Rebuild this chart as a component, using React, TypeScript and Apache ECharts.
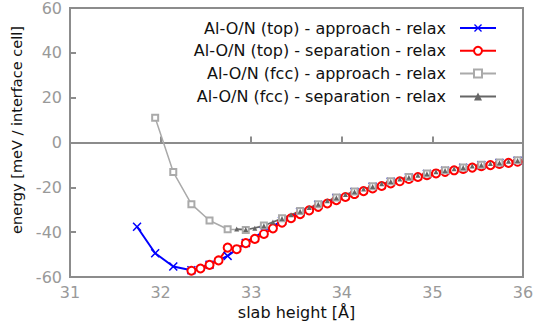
import React, { useEffect, useRef } from "react";
import * as echarts from "echarts";

const xTicks = [31, 32, 33, 34, 35, 36];
const yTicks = [-60, -40, -20, 0, 20, 40, 60];

const seriesNames = [
  "Al-O/N (top) - approach - relax",
  "Al-O/N (top) - separation - relax",
  "Al-O/N (fcc) - approach - relax",
  "Al-O/N (fcc) - separation - relax",
];

const topApproach: [number, number][] = [
  [31.74, -37.6], [31.94, -49.4], [32.14, -55.3], [32.34, -57.0], [32.54, -54.5],
  [32.74, -50.6], [32.94, -44.8], [33.14, -39.6], [33.34, -35.0], [33.54, -31.0],
  [33.74, -27.8], [33.94, -24.8], [34.14, -22.1], [34.34, -19.7], [34.54, -17.5],
  [34.74, -15.6], [34.94, -14.0], [35.14, -12.6], [35.34, -11.3], [35.54, -10.1],
  [35.74, -9.1], [35.94, -8.1],
];

const topSeparation: [number, number][] = [
  [32.34, -57.2], [32.44, -56.2], [32.54, -54.6], [32.64, -52.6], [32.74, -46.9],
  [32.84, -47.6], [32.94, -44.9], [33.04, -43.0], [33.14, -40.8], [33.24, -38.3],
  [33.34, -35.8], [33.44, -33.8], [33.54, -32.0], [33.64, -30.3], [33.74, -28.7],
  [33.84, -27.2], [33.94, -25.7], [34.04, -24.3], [34.14, -23.0], [34.24, -21.7],
  [34.34, -20.5], [34.44, -19.4], [34.54, -18.3], [34.64, -17.3], [34.74, -16.3],
  [34.84, -15.4], [34.94, -14.6], [35.04, -13.8], [35.14, -13.1], [35.24, -12.4],
  [35.34, -11.8], [35.44, -11.2], [35.54, -10.6], [35.64, -10.1], [35.74, -9.6],
  [35.84, -9.1], [35.94, -8.6],
];

const fccApproach: [number, number][] = [
  [31.94, 11.0], [32.14, -13.2], [32.34, -27.5], [32.54, -34.8], [32.74, -38.7],
  [32.94, -39.0], [33.14, -37.0], [33.34, -33.8], [33.54, -30.6], [33.74, -27.5],
  [33.94, -24.5], [34.14, -21.9], [34.34, -19.5], [34.54, -17.3], [34.74, -15.4],
  [34.94, -13.8], [35.14, -12.4], [35.34, -11.1], [35.54, -9.9], [35.74, -8.9],
  [35.94, -7.9],
];

const fccSeparation: [number, number][] = [
  [32.84, -38.6], [32.94, -38.8], [33.04, -38.2], [33.14, -37.1], [33.24, -35.5],
  [33.34, -33.9], [33.44, -32.2], [33.54, -30.7], [33.64, -29.0], [33.74, -27.6],
  [33.84, -26.0], [33.94, -24.6], [34.04, -23.2], [34.14, -22.0], [34.24, -20.7],
  [34.34, -19.6], [34.44, -18.4], [34.54, -17.4], [34.64, -16.3], [34.74, -15.5],
  [34.84, -14.6], [34.94, -13.9], [35.04, -13.1], [35.14, -12.5], [35.24, -11.7],
  [35.34, -11.2], [35.44, -10.5], [35.54, -10.0], [35.64, -9.4], [35.74, -9.0],
  [35.84, -8.4], [35.94, -8.0],
];

const FONT = "DejaVu Sans";
const AXIS_GRAY = "#8c8c8c";
const crossSymbol =
  "path://M0,1.2 L1.2,0 L5,3.8 L8.8,0 L10,1.2 L6.2,5 L10,8.8 L8.8,10 L5,6.2 L1.2,10 L0,8.8 L3.8,5 Z";

export default function App() {
  const ref = useRef<HTMLDivElement>(null);

  useEffect(() => {
    if (!ref.current) return;
    const chart = echarts.init(ref.current, undefined, { renderer: "svg" });
    chart.setOption({
      animation: false,
      backgroundColor: "#ffffff",
      textStyle: { fontFamily: FONT },
      grid: {
        left: 70,
        right: 17,
        top: 7,
        bottom: 53,
        show: true,
        borderColor: AXIS_GRAY,
        borderWidth: 2,
        backgroundColor: "transparent",
      },
      legend: {
        orient: "vertical",
        align: "right",
        right: 38,
        top: 15,
        itemWidth: 36,
        itemHeight: 10,
        itemGap: 6.8,
        data: seriesNames,
        textStyle: {
          fontFamily: FONT,
          fontSize: 16,
          color: "#111",
          padding: [0, 9, 0, 0],
        },
      },
      xAxis: {
        type: "value",
        min: xTicks[0],
        max: xTicks[xTicks.length - 1],
        interval: 1,
        name: "slab height [Å]",
        nameLocation: "middle",
        nameGap: 26,
        nameTextStyle: { fontFamily: FONT, fontSize: 16, color: "#111" },
        axisLine: { lineStyle: { color: AXIS_GRAY, width: 2 } },
        axisTick: { inside: true, length: 6, lineStyle: { color: AXIS_GRAY, width: 2 } },
        axisLabel: { fontFamily: FONT, fontSize: 16, color: "#999", margin: 7 },
        splitLine: { show: false },
      },
      yAxis: {
        type: "value",
        min: yTicks[0],
        max: yTicks[yTicks.length - 1],
        interval: 20,
        name: "energy [meV / interface cell]",
        nameLocation: "middle",
        nameGap: 39,
        nameTextStyle: {
          fontFamily: FONT,
          fontSize: 14.5,
          color: "#111",
          padding: [0, 0, 0, 25],
        },
        axisLine: { lineStyle: { color: AXIS_GRAY, width: 2 } },
        axisTick: { inside: true, length: 6, lineStyle: { color: AXIS_GRAY, width: 2 } },
        axisLabel: { fontFamily: FONT, fontSize: 16, color: "#999", margin: 8 },
        splitLine: { show: false },
      },
      series: [
        {
          name: seriesNames[0],
          type: "line",
          data: topApproach,
          symbol: crossSymbol,
          symbolSize: 9,
          itemStyle: { color: "#0000ff" },
          lineStyle: { color: "#0000ff", width: 2 },
        },
        {
          name: seriesNames[1],
          type: "line",
          data: topSeparation,
          symbol: "emptyCircle",
          symbolSize: 8,
          itemStyle: { color: "#ff0000", borderWidth: 2 },
          lineStyle: { color: "#ff0000", width: 2 },
        },
        {
          name: seriesNames[2],
          type: "line",
          data: fccApproach,
          symbol: "emptyRect",
          symbolSize: 6,
          itemStyle: { color: "#aaaaaa", borderWidth: 1.5 },
          lineStyle: { color: "#aaaaaa", width: 1.5 },
        },
        {
          name: seriesNames[3],
          type: "line",
          data: fccSeparation,
          symbol: "triangle",
          symbolSize: 5,
          itemStyle: { color: "#666666" },
          lineStyle: { color: "#666666", width: 1.5 },
        },
      ],
    });
    return () => chart.dispose();
  }, []);

  return <div ref={ref} style={{ width: 540, height: 330, position: "absolute", left: 0, top: 0 }} />;
}
